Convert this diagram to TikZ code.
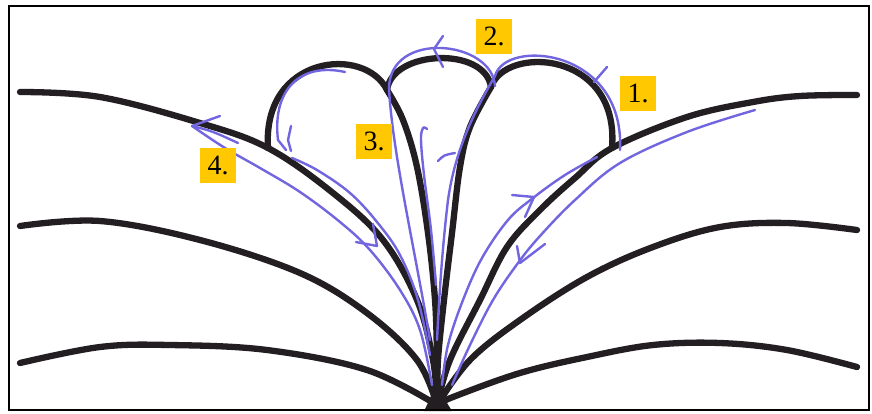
\documentclass[tikz,border=0pt]{standalone}
\usepackage{fontspec}
\setmainfont{Liberation Serif}
\definecolor{ink}{RGB}{35,30,34}
\definecolor{pen}{RGB}{114,102,224}
\definecolor{tag}{RGB}{255,200,0}
\begin{document}
\begin{tikzpicture}[x=1pt,y=-1pt,
  blk/.style={draw=ink,line width=6.3pt,line cap=round,line join=round},
  pur/.style={draw=pen,line width=2.4pt,line cap=round,line join=round},
  tagbox/.style={fill=tag,minimum width=36pt,minimum height=35pt,inner sep=0pt,
    font=\fontsize{28}{28}\selectfont}]
\fill[white] (0,0) rectangle (872,413);
\useasboundingbox (0,0) rectangle (872,413);

% junctions
\coordinate (C) at (437,405);
\coordinate (JL) at (268,148);
\coordinate (JA) at (387,90);
\coordinate (JB) at (491,87);
\coordinate (JR) at (612,148);

% ---- black curves, left
\draw[blk] plot[smooth,tension=0.6] coordinates {(20,92) (100,97) (200,123) (JL) (333,193) (383,240) (417,300) (433,360) (C)};
\draw[blk] plot[smooth,tension=0.6] coordinates {(20,226) (100,221) (200,240) (300,273) (367,313) (417,360) (C)};
\draw[blk] plot[smooth,tension=0.6] coordinates {(20,363) (100,347) (170,345) (267,350) (367,370) (C)};
% ---- black curves, right
\draw[blk] plot[smooth,tension=0.6] coordinates {(C) (450,360) (480,300) (507,247) (540,210) (575,178) (JR) (687,117) (753,102) (800,96) (857,95)};
\draw[blk] plot[smooth,tension=0.6] coordinates {(C) (470,360) (520,320) (587,277) (653,247) (720,227) (787,223) (857,230)};
\draw[blk] plot[smooth,tension=0.6] coordinates {(C) (453,397) (520,373) (587,357) (653,345) (720,343) (787,350) (857,367)};
% ---- stems and loops
\draw[blk] plot[smooth,tension=0.6] coordinates {(C) (437,360) (435,300) (428,233) (417,167) (403,120) (JA)};
\draw[blk] plot[smooth,tension=0.6] coordinates {(C) (438,360) (444,300) (452,233) (460,167) (470,127) (JB)};
\draw[blk] (JA) .. controls (392,50) and (485,46) .. (JB);
\draw[blk] (JL) .. controls (262,55) and (365,45) .. (JA);
\draw[blk] (JB) .. controls (505,45) and (620,50) .. (JR);
% thick meeting point at the bottom
\fill[ink] (424,411) .. controls (432,395) .. (436,372) .. controls (442,395) .. (452,411) -- cycle;

% ---- purple tracing, 1.
\draw[pur] plot[smooth,tension=0.6] coordinates {(755,110) (687,132) (620,163) (575,200) (540,236) (518,263) (493,300) (470,345) (452,385)};
\draw[pur] (517,246) -- (520,263) -- (545,244);
\draw[pur] plot[smooth,tension=0.6] coordinates {(442,385) (448,345) (463,300) (482,258) (508,220) (533,198) (565,175) (597,157)};
\draw[pur] (512,195) -- (534,197) -- (525,217);
\draw[pur] (620,150) .. controls (625,48) and (505,38) .. (495,76)
  .. controls (475,110) and (455,150) .. (448,200)
  .. controls (442,250) and (439,300) .. (437,340);
\draw[pur] (594,82) -- (607,67);
\draw[pur] (438,161) .. controls (444,155) .. (455,153);
% ---- 2.
\draw[pur] (495,86) .. controls (492,40) and (390,30) .. (389,88)
  .. controls (392,150) and (415,250) .. (430,340);
\draw[pur] (443,36) -- (434,49) -- (443,67);
% ---- 3.
\draw[pur] plot[smooth,tension=0.6] coordinates {(427,129) (423,128) (421,140) (424,175) (431,230) (436,285)};
% ---- 4.
\draw[pur] (345,72) .. controls (300,62) and (272,90) .. (278,140) -- (286,150);
\draw[pur] (291,126) -- (288,140) -- (291,151);
\draw[pur] plot[smooth,tension=0.6] coordinates {(292,158) (317,170) (350,193) (377,222) (400,255) (418,300) (430,355)};
\draw[pur] (373,224) -- (377,246) -- (356,242);
\draw[pur] plot[smooth,tension=0.6] coordinates {(432,385) (420,330) (400,290) (370,250) (340,222) (300,192) (260,168) (225,148) (192,126)};
\draw[pur] (220,116) -- (192,126) .. controls (212,131) .. (238,143);

% frame
\draw[line width=2.5pt] (9,6) rectangle (869,410);

% labels
\node[tagbox] (t1) at (638,93) {1.};
\node[tagbox] (t2) at (494,36) {2.};
\node[tagbox] (t3) at (374,141) {3.};
\node[tagbox] (t4) at (218,165) {4.};
\end{tikzpicture}
\end{document}
